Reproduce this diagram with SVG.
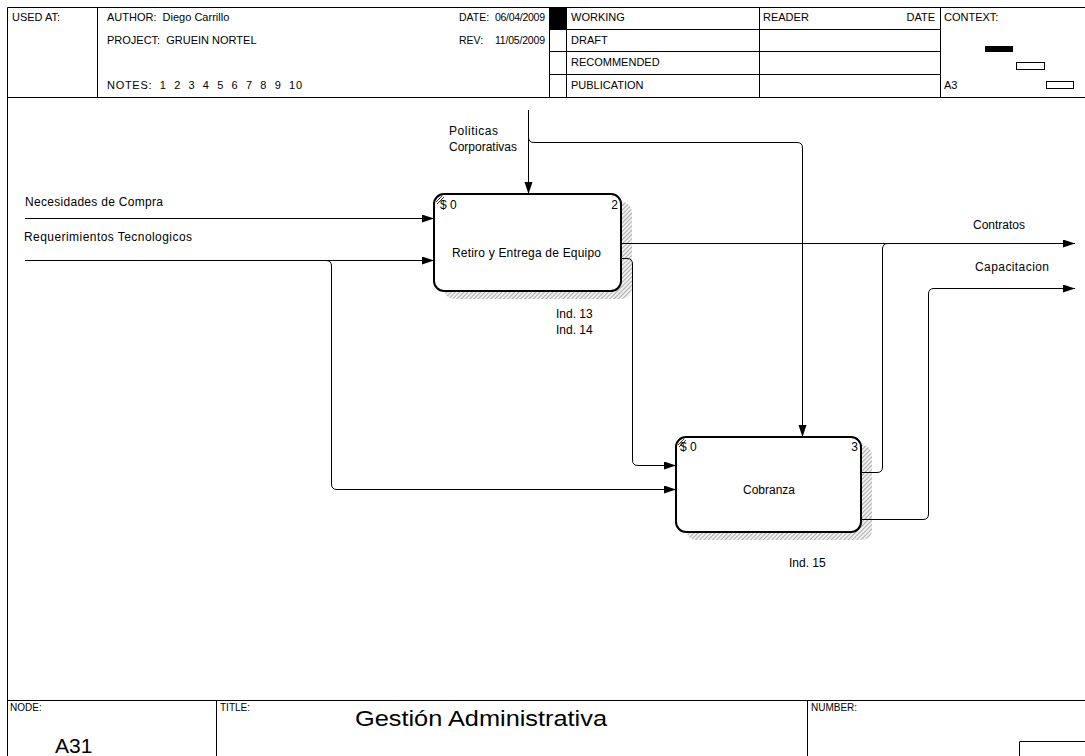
<svg xmlns="http://www.w3.org/2000/svg" width="1085" height="756" viewBox="0 0 1085 756">
  <style>
    text { font-family: "Liberation Sans", Arial, sans-serif; fill: #000; white-space: pre; }
    .hdr { font-size: 11px; }
    .hdr-s { font-size: 10.5px; }
    .lbl { font-size: 12px; }
    .small { font-size: 10px; }
    .frame { stroke: #000; stroke-width: 1; fill: none; }
    .box { fill: #fff; stroke: #000; stroke-width: 2; }
    .shadow { fill: url(#hatch); stroke: none; }
    .conn { fill: none; stroke: #000; stroke-width: 1; }
    .arrow { marker-end: url(#arrowhead); }
  </style>
  <defs>
    <pattern id="hatch" patternUnits="userSpaceOnUse" width="3" height="3" patternTransform="rotate(45)">
      <rect width="3" height="3" fill="#f2f2f2"/>
      <line x1="0" y1="0" x2="0" y2="3" stroke="#6e6e6e" stroke-width="1.1"/>
    </pattern>
    <marker id="arrowhead" markerUnits="userSpaceOnUse" markerWidth="13" markerHeight="9" refX="12" refY="4" orient="auto">
      <path d="M0,0 L12,4 L0,8 Z" fill="#000"/>
    </marker>
  </defs>

  <rect width="1085" height="756" fill="#fff"/>

  <!-- title block: header -->
  <g id="header">
    <path class="frame" d="M7.5,7.5 H1085 M7.5,7.5 V756 M7.5,97.5 H1085
      M97.5,7.5 V97.5 M549.5,7.5 V97.5 M566.5,7.5 V97.5 M759.5,7.5 V97.5 M940.5,7.5 V97.5
      M549.5,29.5 H940.5 M549.5,51.5 H940.5 M549.5,74.5 H940.5"/>
    <rect x="550" y="8" width="16" height="21" fill="#000"/>
    <text class="hdr" x="12" y="21">USED AT:</text>
    <text class="hdr" x="107" y="21">AUTHOR:  Diego Carrillo</text>
    <text class="hdr" x="107" y="44">PROJECT:  GRUEIN NORTEL</text>
    <text class="hdr" x="107" y="89" textLength="195" lengthAdjust="spacing">NOTES:  1  2  3  4  5  6  7  8  9  10</text>
    <text class="hdr-s" x="459" y="21">DATE:</text>
    <text class="hdr-s" x="495" y="21" textLength="50">06/04/2009</text>
    <text class="hdr-s" x="459" y="44">REV:</text>
    <text class="hdr-s" x="495" y="44" textLength="50">11/05/2009</text>
    <text class="hdr" x="571" y="21">WORKING</text>
    <text class="hdr" x="571" y="44">DRAFT</text>
    <text class="hdr" x="571" y="66">RECOMMENDED</text>
    <text class="hdr" x="571" y="89">PUBLICATION</text>
    <text class="hdr" x="763" y="21">READER</text>
    <text class="hdr" x="935" y="21" text-anchor="end">DATE</text>
    <text class="hdr" x="944" y="21">CONTEXT:</text>
    <text class="hdr" x="944" y="89">A3</text>
    <rect x="985" y="46" width="28" height="6" fill="#000"/>
    <rect x="1016.5" y="62.5" width="28" height="7" fill="#fff" stroke="#000"/>
    <rect x="1046.5" y="81.5" width="27" height="7" fill="#fff" stroke="#000"/>
  </g>

  <!-- title block: footer -->
  <g id="footer">
    <path class="frame" d="M7.5,700.5 H1085 M216.5,700.5 V756 M807.5,700.5 V756 M1019.5,756 V741.5 H1085"/>
    <text class="small" x="10" y="711">NODE:</text>
    <text class="small" x="220" y="711">TITLE:</text>
    <text class="small" x="811" y="711">NUMBER:</text>
    <text x="355" y="726" font-size="22" textLength="252" lengthAdjust="spacingAndGlyphs">Gestión Administrativa</text>
    <text x="55" y="753" font-size="21">A31</text>
  </g>

  <!-- activity 2 -->
  <g id="node-a2">
    <rect class="shadow" x="444" y="202" width="188" height="97" rx="10"/>
    <rect class="box" x="434" y="194" width="187" height="97" rx="10"/>
    <path d="M436,202 L442,196 M437,204 L444,197" stroke="#000" stroke-width="0.8"/>
    <text class="lbl" x="440" y="209">$ 0</text>
    <text class="lbl" x="618" y="209" text-anchor="end">2</text>
    <text class="lbl" x="452" y="257" textLength="149">Retiro y Entrega de Equipo</text>
  </g>

  <!-- activity 3 -->
  <g id="node-a3">
    <rect class="shadow" x="686" y="445" width="186" height="95" rx="10"/>
    <rect class="box" x="676" y="437" width="185" height="95" rx="10"/>
    <path d="M678,445 L684,439 M679,447 L686,440" stroke="#000" stroke-width="0.8"/>
    <text class="lbl" x="680" y="451">$ 0</text>
    <text class="lbl" x="858" y="451" text-anchor="end">3</text>
    <text class="lbl" x="743" y="494" textLength="52">Cobranza</text>
  </g>

  <!-- arrows -->
  <g id="connectors">
    <path class="conn arrow" d="M25,218.5 H434"/>
    <path class="conn arrow" d="M25,260.5 H434"/>
    <path class="conn arrow" d="M326,260.5 Q331.5,260.5 331.5,266 V484 Q331.5,489.5 337,489.5 H676"/>
    <path class="conn arrow" d="M528.5,110 V194"/>
    <path class="conn arrow" d="M528.5,137 Q528.5,142.5 534,142.5 H797 Q802.5,142.5 802.5,148 V437"/>
    <path class="conn arrow" d="M621,243.5 H1075"/>
    <path class="conn" d="M861,472.5 H877 Q882.5,472.5 882.5,467 V249 Q882.5,243.5 888,243.5"/>
    <path class="conn arrow" d="M861,519.5 H923 Q928.5,519.5 928.5,514 V294 Q928.5,288.5 934,288.5 H1075"/>
    <path class="conn arrow" d="M621,258.5 H627 Q632.5,258.5 632.5,264 V460 Q632.5,465.5 638,465.5 H676"/>
  </g>

  <!-- arrow labels -->
  <g id="labels">
    <text class="lbl" x="25" y="206" textLength="138">Necesidades de Compra</text>
    <text class="lbl" x="24" y="241" textLength="168">Requerimientos Tecnologicos</text>
    <text class="lbl" x="449" y="135" textLength="49">Politicas</text>
    <text class="lbl" x="449" y="151" textLength="68">Corporativas</text>
    <text class="lbl" x="973" y="229" textLength="52">Contratos</text>
    <text class="lbl" x="975" y="271" textLength="74">Capacitacion</text>
    <text class="lbl" x="556" y="318">Ind. 13</text>
    <text class="lbl" x="556" y="334">Ind. 14</text>
    <text class="lbl" x="789" y="567">Ind. 15</text>
  </g>
</svg>
